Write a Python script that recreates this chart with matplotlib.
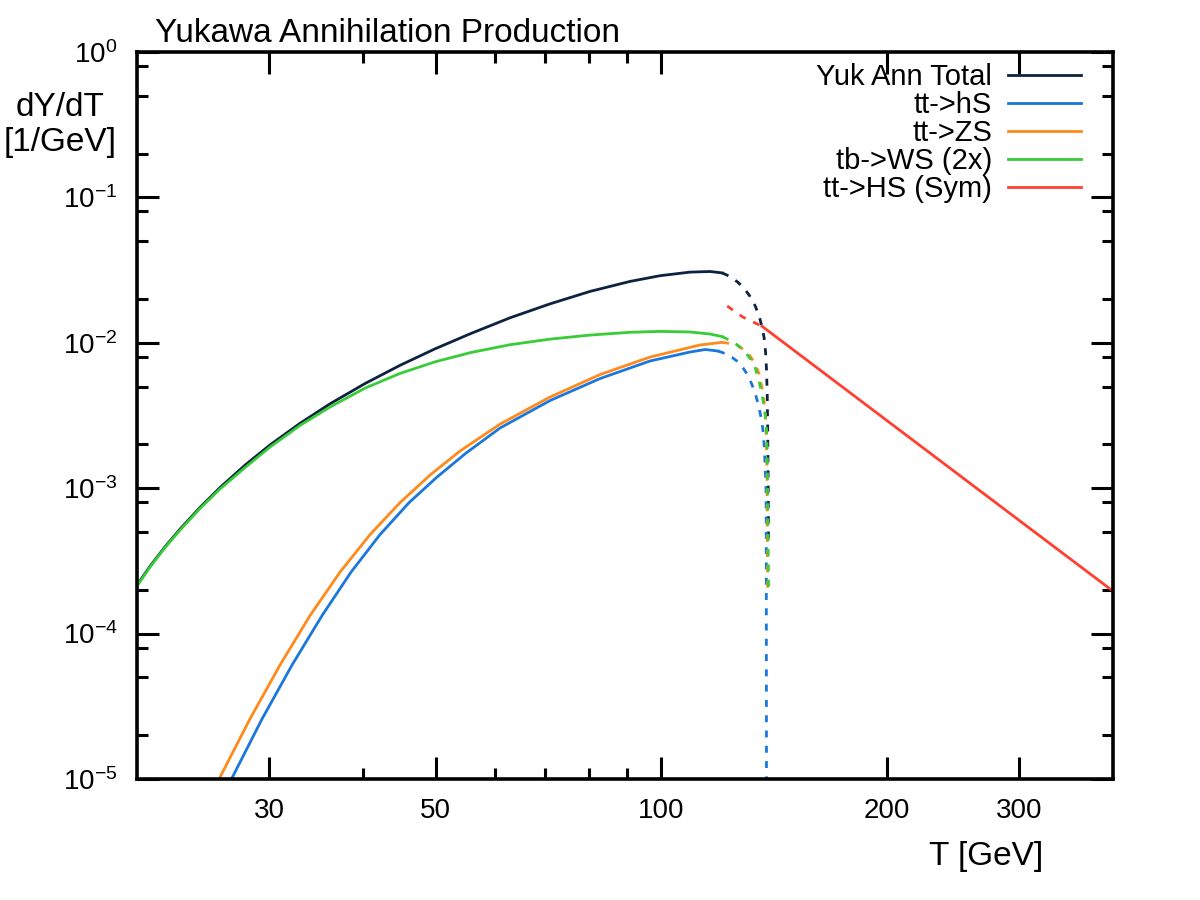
import matplotlib
matplotlib.use("Agg")
import matplotlib.pyplot as plt
from matplotlib.ticker import NullFormatter

# ---- data (T in GeV, dY/dT in 1/GeV) ----
# Yuk Ann Total: solid up to T ~ 120, dashed down to Tc
T_tot = [20, 20.82, 21.80, 22.83, 24.27, 25.80, 27.87, 30.09, 32.99, 36.17, 40.28, 44.85,
         49.94, 55.60, 62.85, 71.08, 80.36, 90.85, 99.62, 109.2, 116.1, 120.5]
Y_tot = [2.159e-4, 2.907e-4, 3.959e-4, 5.240e-4, 7.379e-4, 1.0095e-3, 1.442e-3, 1.985e-3,
         2.795e-3, 3.806e-3, 5.249e-3, 7.003e-3, 9.094e-3, 1.153e-2, 1.486e-2, 1.854e-2,
         2.257e-2, 2.644e-2, 2.894e-2, 3.063e-2, 3.093e-2, 3.025e-2]
T_tot_d = [120.5, 123.5, 126.6, 129.3, 131.3, 133.4, 135.0, 136.2, 137.1, 137.7, 138.1,
           138.4, 138.6, 138.8, 138.95]
Y_tot_d = [3.025e-2, 2.858e-2, 2.598e-2, 2.326e-2, 2.082e-2, 1.791e-2, 1.529e-2, 1.285e-2,
           1.079e-2, 8.65e-3, 6.50e-3, 4.375e-3, 2.514e-3, 1.139e-3, 4.40e-4]

# tt->hS
T_hs = [26.73, 29.36, 32.19, 35.30, 38.58, 42.17, 46.11, 50.24, 54.92, 60.96, 71.08, 82.87,
        96.6, 109.2, 114.4, 119.0]
Y_hs = [1.0e-5, 2.59e-5, 6.08e-5, 1.332e-4, 2.65e-4, 4.80e-4, 7.97e-4, 1.194e-3, 1.746e-3,
        2.595e-3, 4.01e-3, 5.68e-3, 7.50e-3, 8.64e-3, 8.99e-3, 8.78e-3]
T_hs_d = [119.0, 121.6, 124.3, 126.6, 128.5, 130.5, 132.1, 133.4, 134.6, 135.6, 136.5,
          137.1, 137.5, 137.9, 138.0, 138.1]
Y_hs_d = [8.78e-3, 8.44e-3, 7.92e-3, 7.38e-3, 6.71e-3, 5.96e-3, 5.13e-3, 4.48e-3, 3.795e-3,
          3.19e-3, 2.594e-3, 1.982e-3, 1.444e-3, 9.72e-4, 4.40e-4, 5e-6]

# tt->ZS
T_zs = [25.73, 28.29, 31.02, 34.02, 37.30, 40.90, 44.85, 49.18, 53.92, 60.96, 71.08, 82.87,
        96.6, 112.6, 120.5]
Y_zs = [1.0e-5, 2.59e-5, 6.08e-5, 1.332e-4, 2.65e-4, 4.80e-4, 7.97e-4, 1.233e-3, 1.803e-3,
        2.76e-3, 4.24e-3, 6.05e-3, 7.98e-3, 9.66e-3, 1.007e-2]
T_zs_d = [120.5, 123.5, 126.6, 129.3, 131.3, 133.4, 135.0, 136.2, 137.1, 137.7, 138.05,
          138.3, 138.4, 138.6]
Y_zs_d = [1.007e-2, 9.89e-3, 9.51e-3, 8.85e-3, 8.11e-3, 7.15e-3, 6.10e-3, 4.89e-3, 3.916e-3,
          3.04e-3, 2.146e-3, 1.139e-3, 5.158e-4, 1.995e-4]

# tb->WS (2x)
T_ws = [20, 20.82, 21.80, 22.83, 24.27, 25.80, 27.87, 30.09, 32.99, 36.17, 40.28, 44.85,
        49.94, 55.60, 62.85, 71.08, 80.36, 90.85, 99.62, 109.2, 116.1, 120.5]
Y_ws = [2.125e-4, 2.871e-4, 3.908e-4, 5.158e-4, 7.252e-4, 9.874e-4, 1.388e-3, 1.920e-3,
        2.703e-3, 3.618e-3, 4.88e-3, 6.16e-3, 7.40e-3, 8.55e-3, 9.70e-3, 1.060e-2, 1.130e-2,
        1.181e-2, 1.198e-2, 1.187e-2, 1.149e-2, 1.103e-2]
T_ws_d = [120.5, 123.5, 126.6, 129.3, 131.3, 133.4, 135.0, 136.2, 137.1, 137.7, 138.1,
          138.4, 138.6, 138.8, 138.95]
Y_ws_d = [1.103e-2, 1.037e-2, 9.58e-3, 8.65e-3, 7.80e-3, 6.71e-3, 5.46e-3, 4.375e-3,
          3.619e-3, 3.04e-3, 2.514e-3, 1.831e-3, 9.72e-4, 4.40e-4, 2.091e-4]

# tt->HS (Sym)
T_sym_d = [122.4, 128.5, 136.2]
Y_sym_d = [1.79e-2, 1.50e-2, 1.30e-2]
T_sym = [136.2, 200, 300, 400]
Y_sym = [1.30e-2, 2.91e-3, 6.0e-4, 1.96e-4]

labels = ["Yuk Ann Total", "tt->hS", "tt->ZS", "tb->WS (2x)", "tt->HS (Sym)"]
colors = ["#0c2240", "#1a78dc", "#ff8a1c", "#38cc38", "#ff4030"]

x_major = [30, 50, 100, 200, 300]
x_minor = [40, 60, 70, 80, 90]
y_exp = [0, -1, -2, -3, -4, -5]

plt.rcParams["font.family"] = ["Liberation Sans", "DejaVu Sans"]
plt.rcParams["mathtext.default"] = "regular"

fig = plt.figure(figsize=(12, 9), dpi=100)
ax = fig.add_axes([137 / 1200, 121 / 900, 976 / 1200, 727 / 900])

solid = [(T_tot, Y_tot), (T_hs, Y_hs), (T_zs, Y_zs), (T_ws, Y_ws), (T_sym, Y_sym)]
dashed = [(T_tot_d, Y_tot_d), (T_hs_d, Y_hs_d), (T_zs_d, Y_zs_d), (T_ws_d, Y_ws_d), (T_sym_d, Y_sym_d)]
lw = 2.0
for (t, y), (td, yd), lab, c in zip(solid, dashed, labels, colors):
    ax.plot(t, y, color=c, lw=lw, label=lab, solid_joinstyle="round")
    ax.plot(td, yd, color=c, lw=lw, ls=(0, (2.5, 3)), dash_capstyle="butt")

ax.set_xscale("log"); ax.set_yscale("log")
ax.set_xlim(20, 400); ax.set_ylim(1e-5, 1)

ax.set_xticks(x_major)
ax.set_xticklabels([str(v) for v in x_major])
ax.set_xticks(x_minor, minor=True)
ax.xaxis.set_minor_formatter(NullFormatter())
ax.set_yticks([10.0 ** e for e in y_exp])
ax.set_yticklabels([f"$10^{{{e}}}$" for e in y_exp])
ax.set_yticks([m * 10.0 ** e for e in range(-5, 0) for m in (2, 5, 8)], minor=True)
ax.yaxis.set_minor_formatter(NullFormatter())

ax.tick_params(which="both", direction="in", top=True, right=True, width=2.2, labelsize=20)
ax.tick_params(which="major", length=16)
ax.tick_params(which="minor", length=8)
ax.tick_params(axis="x", pad=14)
ax.tick_params(axis="y", pad=14)
for s in ax.spines.values():
    s.set_linewidth(2.6)

fig.text(155 / 1200, 1 - 42 / 900, "Yukawa Annihilation Production", fontsize=24, va="baseline", ha="left")
fig.text(60 / 1200, 1 - 125 / 900, "dY/dT\n[1/GeV]", fontsize=24, ha="center", va="center", linespacing=1.2)
fig.text(986 / 1200, 1 - 857 / 900, "T [GeV]", fontsize=24, ha="center", va="center")

ax.legend(loc="upper right", bbox_to_anchor=(1081 / 1200, 1 - 63 / 900), bbox_transform=fig.transFigure,
          markerfirst=False, frameon=False, fontsize=21, handlelength=2.5, handletextpad=0.55,
          labelspacing=0.0, borderpad=0, borderaxespad=0)

fig.savefig("out.png", dpi=100)
